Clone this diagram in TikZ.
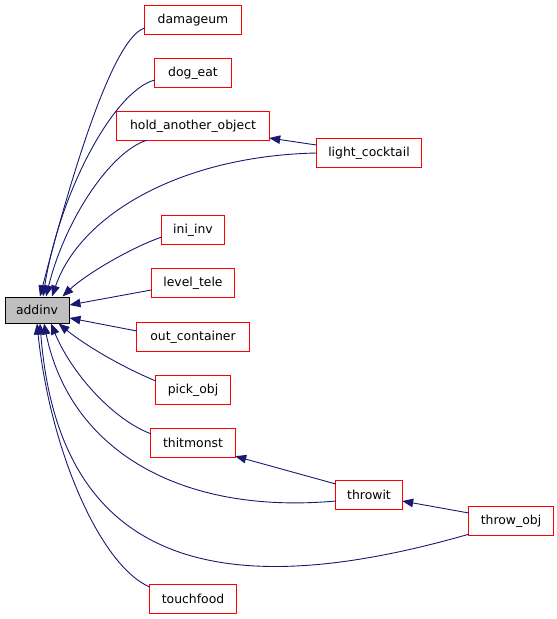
\documentclass[tikz,border=0pt]{standalone}
\usepackage{fontspec}
\setmainfont{DejaVu Sans}
\usetikzlibrary{arrows.meta,calc}
\definecolor{edgeblue}{HTML}{191970}
\definecolor{addgray}{HTML}{BFBFBF}
\definecolor{boxred}{HTML}{FF0000}
\tikzset{
  fn/.style={fill=white, inner sep=0pt, minimum height=28pt, font=\fontsize{12.4}{14}\selectfont},
  rootfn/.style={draw=black, fill=addgray, line width=1pt, inner sep=0pt, font=\fontsize{12.4}{14}\selectfont},
  redframe/.style={draw=boxred, line width=1pt},
  call/.style={draw=edgeblue, line width=0.9pt, -{Triangle[length=11pt,width=8.5pt]}},
}
\begin{document}
\begin{tikzpicture}[x=1pt,y=-1pt]
\useasboundingbox (0,0) rectangle (557,619);
% nodes
\node[rootfn, minimum width=64pt, minimum height=26pt] (addinv) at (37,310) {addinv};
\node[fn, minimum width=96pt] (damageum) at (193,20) {damageum};
\node[fn, minimum width=76pt] (dogeat) at (193,73) {dog\_eat};
\node[fn, minimum width=152pt] (hold) at (193,126) {hold\_another\_object};
\node[fn, minimum width=105pt] (light) at (369,153) {light\_cocktail};
\node[fn, minimum width=62pt] (iniinv) at (193,230) {ini\_inv};
\node[fn, minimum width=83pt] (leveltele) at (193,283) {level\_tele};
\node[fn, minimum width=112pt] (outcont) at (193,337) {out\_container};
\node[fn, minimum width=74pt] (pickobj) at (193,390) {pick\_obj};
\node[fn, minimum width=84pt] (thitmonst) at (193,443) {thitmonst};
\node[fn, minimum width=66pt] (throwit) at (369,495) {throwit};
\node[fn, minimum width=84pt] (throwobj) at (511,521) {throw\_obj};
\node[fn, minimum width=87pt] (touchfood) at (193,599) {touchfood};
\foreach \n in {damageum,dogeat,hold,light,iniinv,leveltele,outcont,pickobj,thitmonst,throwit,throwobj,touchfood}
  \draw[redframe] (\n.south west) rectangle (\n.north east);
% edges to addinv (top)
\draw[call] ([yshift=-8pt]damageum.west) .. controls (110,38) and (65,200) .. ([xshift=3pt]addinv.north);
\draw[call] ([yshift=-7pt]dogeat.west) .. controls (115,90) and (60,190) .. ([xshift=6pt]addinv.north);
\draw[call] ([xshift=30pt]hold.south west) .. controls (110,152) and (65,220) .. ([xshift=9pt]addinv.north);
\draw[call] (light.west) .. controls (180,156) and (80,215) .. ([xshift=15pt]addinv.north);
\draw[call] ([yshift=-7pt]iniinv.west) .. controls (130,248) and (85,275) .. ([xshift=-7pt]addinv.north east);
% edges to addinv (right)
\draw[call] ([yshift=-7pt]leveltele.west) -- ([yshift=5pt]addinv.east);
\draw[call] ([yshift=6pt]outcont.west) -- ([yshift=-8pt]addinv.east);
\draw[call] ([yshift=9pt]pickobj.west) .. controls (120,366) and (85,345) .. ([xshift=-11pt]addinv.south east);
% edges to addinv (bottom)
\draw[call] ([yshift=-5pt]thitmonst.north west) .. controls (110,418) and (70,370) .. ([xshift=14pt]addinv.south);
\draw[call] ([yshift=-6pt]throwit.west) .. controls (180,515) and (70,450) .. ([xshift=7pt]addinv.south);
\draw[call] ([yshift=1pt]throwobj.south west) .. controls (240,600) and (60,580) .. ([xshift=3pt]addinv.south);
\draw[call] ([yshift=-2pt]touchfood.north west) .. controls (100,565) and (50,450) .. (addinv.south);
% other edges
\draw[call] ([yshift=8pt]light.west) -- ([yshift=-12pt]hold.east);
\draw[call] ([yshift=11pt]throwit.west) -- ([yshift=1pt]thitmonst.south east);
\draw[call] ([yshift=8pt]throwobj.west) -- ([yshift=-6pt]throwit.east);
\end{tikzpicture}
\end{document}
